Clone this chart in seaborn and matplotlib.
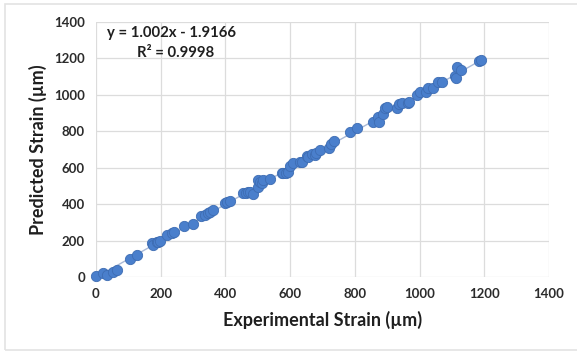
import numpy as np
import pandas as pd
import matplotlib
matplotlib.use("Agg")
import matplotlib.pyplot as plt
import seaborn as sns
from matplotlib.patches import Rectangle

# ---- data ----
experimental = [0, 21, 33, 52, 64, 105, 128, 172, 177, 187, 193, 198, 218, 234, 241,
                272, 299, 326, 337, 346, 352, 363, 399, 405, 414, 453, 463, 471, 476, 484,
                501, 502, 507, 512, 517, 538, 574, 579, 587, 594, 600, 610, 630, 636, 651,
                656, 667, 677, 680, 692, 721, 725, 737, 785, 806, 855, 873, 876, 886, 893,
                900, 929, 937, 945, 965, 968, 991, 1001, 1020, 1027, 1042, 1058, 1068, 1109,
                1114, 1115, 1128, 1185, 1189]
predicted = [5, 20, 11, 29, 40, 97, 121, 185, 178, 194, 194, 200, 231, 240, 245,
             280, 291, 335, 340, 351, 359, 368, 405, 410, 420, 460, 463, 469, 469, 456,
             496, 533, 520, 518, 530, 537, 569, 572, 569, 579, 610, 628, 633, 633, 665,
             661, 676, 670, 683, 698, 707, 731, 749, 798, 817, 850, 881, 850, 894, 927,
             932, 927, 950, 954, 958, 960, 1000, 1018, 1018, 1040, 1040, 1068, 1073, 1101,
             1092, 1155, 1134, 1188, 1192]
slope = 1.002
intercept = -1.9166
r2 = 0.9998
ticks = [0, 200, 400, 600, 800, 1000, 1200, 1400]

df = pd.DataFrame({"Experimental": experimental, "Predicted": predicted})
xfit = np.array([min(experimental), max(experimental)])
fit = pd.DataFrame({"x": xfit, "y": slope * xfit + intercept})

sns.set_theme(style="white")
plt.rcParams["font.family"] = ["Lato", "DejaVu Sans"]

fig = plt.figure(figsize=(5.77, 3.52), dpi=100)
ax = fig.add_axes([96/577, 1-277/352, (549-96)/577, (277-22)/352])

# outer frame
fig.patches.append(Rectangle((5/577, 2/352), 1.0, 346/352, transform=fig.transFigure,
                             fill=False, edgecolor="#E3E3E3", linewidth=1.2))

sns.lineplot(data=fit, x="x", y="y", ax=ax, color="#A9B9D6", linewidth=1.0, zorder=2)
sns.scatterplot(data=df, x="Experimental", y="Predicted", ax=ax, s=55,
                color="#4A7FCC", edgecolor="#3E6DB3", linewidth=0.6, zorder=3,
                clip_on=False)

ax.set_xlim(0, 1400)
ax.set_ylim(0, 1400)
ax.set_xticks(ticks)
ax.set_yticks(ticks)
ax.set_xticklabels([str(t) for t in ticks])
ax.set_yticklabels([str(t) for t in ticks])
ax.grid(True, color="#DCDCDC", linewidth=0.9)
ax.set_axisbelow(True)
for s in ax.spines.values():
    s.set_visible(False)
ax.tick_params(axis="both", length=0, labelsize=9.5, labelcolor="#2B2B2B", pad=8)
for lab in ax.get_xticklabels() + ax.get_yticklabels():
    lab.set_fontweight("bold")

ax.set_xlabel("Experimental Strain (µm)", fontsize=13, fontweight="bold", color="#1F1F1F", labelpad=8)
ax.set_ylabel("Predicted Strain (µm)", fontsize=13, fontweight="bold", color="#1F1F1F", labelpad=5)

ax.text(0.024, 0.955, f"y = {slope}x - {abs(intercept)}", transform=ax.transAxes,
        fontsize=10.7, fontweight="bold", color="#1F1F1F", va="center", ha="left")
ax.text(0.09, 0.877, f"R² = {r2}", transform=ax.transAxes,
        fontsize=10.7, fontweight="bold", color="#1F1F1F", va="center", ha="left")

fig.savefig("out.png", dpi=100, facecolor="white")
